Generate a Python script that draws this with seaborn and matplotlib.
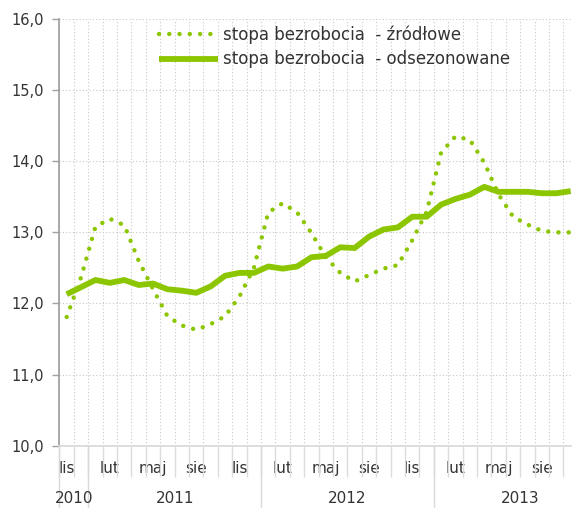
import matplotlib
matplotlib.use("Agg")
import matplotlib.pyplot as plt
import matplotlib.transforms as mtransforms
import numpy as np
import pandas as pd
import seaborn as sns

# Miesiące od listopada 2010 do października 2013
miesiace = ["lis", "gru", "sty", "lut", "mar", "kwi", "maj", "cze", "lip", "sie", "wrz", "paź"] * 3
pokazane = ["lis", "lut", "maj", "sie"]
lata = ["2010", "2011", "2012", "2013"]
miesiace_w_roku = [2, 12, 12, 12]

# Stopa bezrobocia (%)
zrodlowe = [11.81, 12.37, 13.08, 13.19, 13.10, 12.60, 12.20, 11.82, 11.69, 11.63, 11.71, 11.82,
            12.10, 12.50, 13.28, 13.41, 13.28, 12.99, 12.65, 12.43, 12.31, 12.40, 12.49, 12.54,
            12.89, 13.29, 14.12, 14.35, 14.30, 13.98, 13.53, 13.22, 13.11, 13.02, 13.00, 13.00]
odsezonowane = [12.13, 12.23, 12.33, 12.29, 12.33, 12.26, 12.28, 12.20, 12.18, 12.15, 12.24, 12.39,
                12.43, 12.43, 12.52, 12.49, 12.52, 12.65, 12.67, 12.79, 12.78, 12.94, 13.04, 13.07,
                13.22, 13.22, 13.39, 13.47, 13.53, 13.64, 13.57, 13.57, 13.57, 13.55, 13.55, 13.58]

etykiety = ["stopa bezrobocia  - źródłowe", "stopa bezrobocia  - odsezonowane"]
zielony = "#8cc600"
szary_tekst = "#333333"
siatka = "#c8c8c8"

df = pd.DataFrame({"nr": np.arange(len(miesiace)), "zrodlowe": zrodlowe, "odsezonowane": odsezonowane})

sns.set_theme(style="white")
plt.rcParams["font.family"] = ["DejaVu Sans"]

fig = plt.figure(figsize=(5.72, 5.08), dpi=100)
ax = fig.add_axes([0.104, 0.1226, 0.9063, 0.840])

sns.lineplot(data=df, x="nr", y="zrodlowe", ax=ax, color=zielony, lw=3.2,
             linestyle=(0, (0.01, 2.3)), dash_capstyle="round", label=etykiety[0])
sns.lineplot(data=df, x="nr", y="odsezonowane", ax=ax, color=zielony, lw=4.2,
             solid_capstyle="butt", label=etykiety[1])

ax.set_xlim(-0.5, len(miesiace) - 0.5)
ax.set_ylim(10, 16)
ax.set_xlabel("")
ax.set_ylabel("")

# oś Y
ax.set_yticks(range(10, 17))
ax.set_yticklabels([f"{v},0" for v in range(10, 17)])
ax.tick_params(axis="y", length=5, width=1, color="#a0a0a0", pad=6, labelsize=10.5, labelcolor=szary_tekst, left=True)

# oś X - nazwy miesięcy co kwartał
poz = [i for i, m in enumerate(miesiace) if m in pokazane]
ax.set_xticks(poz)
ax.set_xticklabels([miesiace[i] for i in poz])
ax.set_xticks(np.arange(-0.5, len(miesiace), 1), minor=True)
ax.tick_params(axis="x", which="major", length=0, pad=11, labelsize=11, labelcolor=szary_tekst)
ax.tick_params(axis="x", which="minor", length=22, width=1, color="#dcdcdc", bottom=True)

# siatka
ax.grid(axis="y", which="major", linestyle=(0, (1, 2)), color=siatka, lw=0.8)
ax.grid(axis="x", which="minor", linestyle=(0, (1, 2)), color=siatka, lw=0.8)
ax.grid(axis="x", which="major", visible=False)

for s in ["top", "right"]:
    ax.spines[s].set_visible(False)
ax.spines["left"].set_color("#a0a0a0")
ax.spines["bottom"].set_color("#d9d9d9")

# podział na lata
tr = mtransforms.blended_transform_factory(ax.transData, ax.transAxes)
start = -0.5
for rok, n in zip(lata, miesiace_w_roku):
    ax.plot([start, start], [0, -0.15], transform=tr, color="#d9d9d9", lw=1, clip_on=False)
    srodek = start + 12 / 2 if n == 12 else start + n / 2
    ax.text(srodek, -0.1226, rok, transform=tr, ha="center", va="center", fontsize=11, color=szary_tekst)
    start += n

ax.legend(loc="upper left", bbox_to_anchor=(151 / 572, 1 - 17 / 508), bbox_transform=fig.transFigure,
          frameon=False, fontsize=12, handlelength=3.5, handletextpad=0.3, borderpad=0,
          labelspacing=0.4, labelcolor=szary_tekst)

fig.savefig("out.png", dpi=100)
